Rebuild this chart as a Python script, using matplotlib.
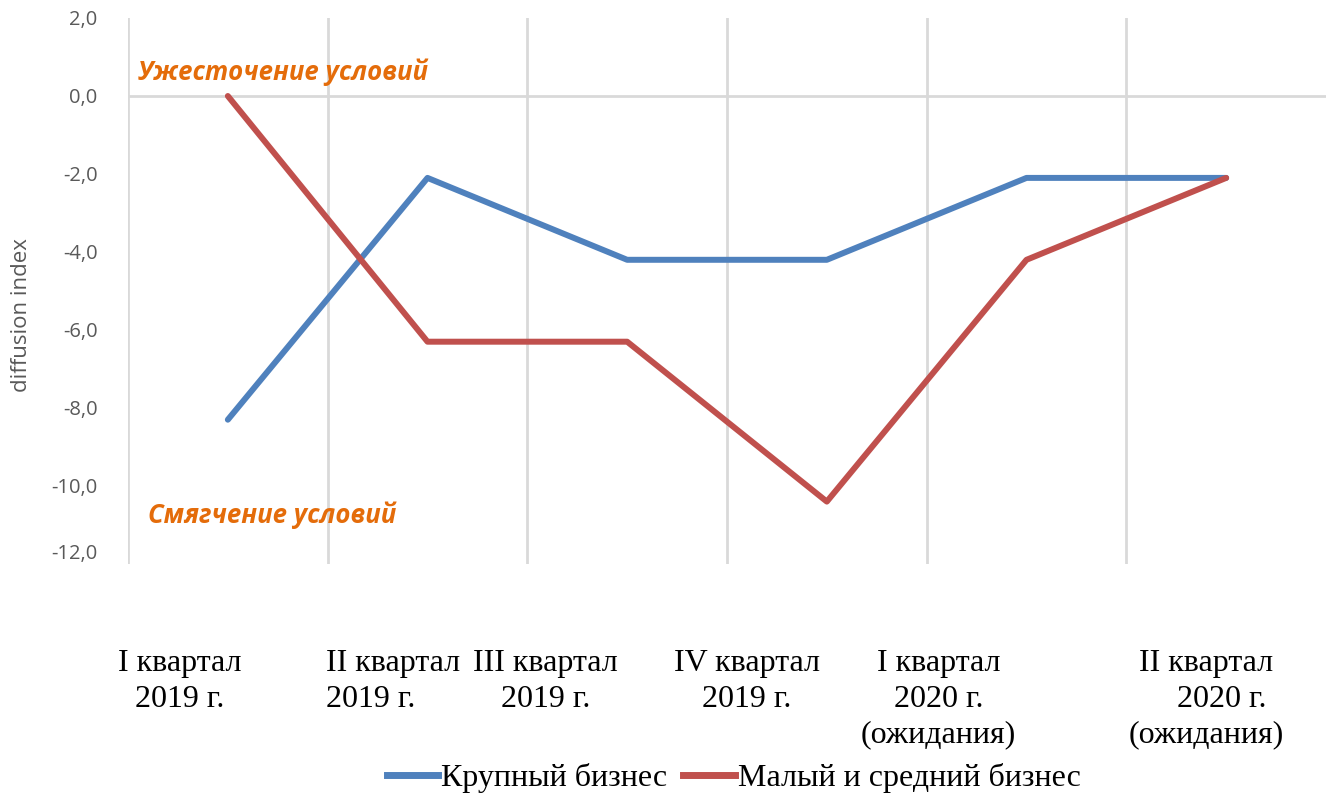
import matplotlib.pyplot as plt
from matplotlib.lines import Line2D

# данные
categories = [
    'I квартал\n2019 г.',
    'II квартал\n2019 г.',
    'III квартал\n2019 г.',
    'IV квартал\n2019 г.',
    'I квартал\n2020 г.\n(ожидания)',
    'II квартал\n    2020 г.\n(ожидания)',
]
large_business = [-8.3, -2.1, -4.2, -4.2, -2.1, -2.1]
small_medium_business = [0.0, -6.3, -6.3, -10.4, -4.2, -2.1]
series_names = ['Крупный бизнес', 'Малый и средний бизнес']
y_ticks = [2, 0, -2, -4, -6, -8, -10, -12]

BLUE = '#4F81BD'
RED = '#C0504D'
ORANGE = '#E46C0A'
GRID = '#D9D9D9'

fig = plt.figure(figsize=(13.27, 7.96), dpi=100)
ax = fig.add_axes([128 / 1327, 1 - 564 / 796, 1198 / 1327, 546 / 796])

x = list(range(1, len(categories) + 1))
ax.set_xlim(0.5, len(categories) + 0.5)
ax.set_ylim(-12, 2)

# вертикальная сетка по границам категорий и ось на нуле
for b in range(len(categories)):
    ax.axvline(b + 0.5, color=GRID, linewidth=2, zorder=1)
ax.axhline(0, color=GRID, linewidth=2, zorder=1)

ax.plot(x, large_business, color=BLUE, linewidth=4.3,
        solid_capstyle='round', zorder=3)
ax.plot(x, small_medium_business, color=RED, linewidth=4.3,
        solid_capstyle='round', zorder=3)

for side in ('top', 'right', 'bottom', 'left'):
    ax.spines[side].set_visible(False)

ax.set_xticks([])
ax.set_yticks(y_ticks)
ax.set_yticklabels([f'{v:.1f}'.replace('.', ',') for v in y_ticks],
                   fontfamily='Open Sans', fontsize=14.5, color='#595959')
ax.get_yticklabels()[-1].set_va('bottom')
ax.tick_params(axis='y', length=0, pad=22)
ax.set_ylabel('diffusion index', fontfamily='Open Sans', fontsize=16,
              color='#595959')
ax.yaxis.set_label_coords(-0.08, 0.456)

# подписи категорий (сдвинуты как в оригинале)
label_centers = [0.76, 0.49, 0.59, 0.60, 0.56, 0.90]
label_ha = ['center', 'left', 'center', 'center', 'center', 'center']
for i, (lab, off, ha) in enumerate(zip(categories, label_centers, label_ha)):
    ax.text(i + off, -0.155, lab, transform=ax.get_xaxis_transform(),
            ha=ha, va='top', multialignment=ha,
            fontfamily='Liberation Serif', fontsize=23, linespacing=1.32)

ax.text(0.55, 0.6, 'Ужесточение условий', color=ORANGE,
        fontfamily='Open Sans', fontweight='bold', fontstyle='italic',
        fontsize=18.5, ha='left', va='center')
ax.text(0.6, -10.75, 'Смягчение условий', color=ORANGE,
        fontfamily='Open Sans', fontweight='bold', fontstyle='italic',
        fontsize=18.5, ha='left', va='center')

handles = [Line2D([], [], color=BLUE, linewidth=5),
           Line2D([], [], color=RED, linewidth=5)]
fig.legend(handles, series_names, loc='center', bbox_to_anchor=(0.553, 1 - 778 / 796),
           ncol=2, frameon=False, handlelength=1.6, handletextpad=0.1,
           columnspacing=0.5, prop={'family': 'Liberation Serif', 'size': 23})

fig.savefig('out.png', dpi=100)
